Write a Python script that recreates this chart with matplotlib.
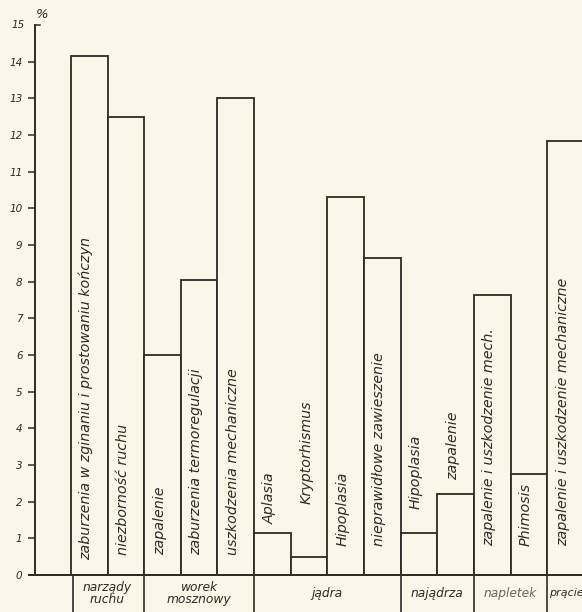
import matplotlib
matplotlib.use("Agg")
import matplotlib.pyplot as plt

# ---- data ----
bar_labels = [
    "zaburzenia w zginaniu i prostowaniu kończyn",
    "niezborność ruchu",
    "zapalenie",
    "zaburzenia termoregulacji",
    "uszkodzenia mechaniczne",
    "Aplasia",
    "Kryptorhismus",
    "Hipoplasia",
    "nieprawidłowe zawieszenie",
    "Hipoplasia",
    "zapalenie",
    "zapalenie i uszkodzenie mech.",
    "Phimosis",
    "zapalenie i uszkodzenie mechaniczne",
]
values = [14.15, 12.5, 6.0, 8.05, 13.0, 1.15, 0.5, 10.3, 8.65, 1.15, 2.2, 7.65, 2.75, 11.85]
groups = ["narządy\nruchu", "worek\nmosznowy", "jądra", "najądrza", "napletek", "prącie"]
group_sizes = [2, 3, 4, 2, 2, 2]
yticks = list(range(0, 16))

# label placement (layout)
label_y = [0.4, 0.55, 0.55, 0.55, 0.55, 1.4, 1.95, 0.8, 0.8, 1.8, 2.6, 0.8, 0.8, 0.8]

bg = "#faf6e8"
ink = "#2e2b28"

fig = plt.figure(figsize=(5.82, 6.12), dpi=100, facecolor=bg)
ax = fig.add_axes([35 / 582, 37 / 612, 1 - 35 / 582, 550 / 612])
ax.set_facecolor(bg)

x = list(range(len(values)))
ax.bar([i + 0.5 for i in x], values, width=1.0, facecolor=bg, edgecolor=ink,
       linewidth=1.3, zorder=2)

ax.set_xlim(-0.98, 13.95)
ax.set_ylim(0, 15)

for s in ["top", "right"]:
    ax.spines[s].set_visible(False)
ax.spines["left"].set_color(ink)
ax.spines["bottom"].set_color(ink)
ax.spines["left"].set_linewidth(1.4)
ax.spines["bottom"].set_linewidth(1.4)
ax.set_xticks([])
ax.set_yticks(yticks[:-1])
ax.set_yticklabels([str(t) for t in yticks[:-1]], fontstyle="italic", fontsize=7.5, color=ink)
ax.tick_params(axis="y", direction="out", length=5, width=1.1, color=ink, pad=4)

# 15 mark with short hook to the right
ax.plot([-0.98, -0.83], [15, 15], color=ink, lw=1.1, clip_on=False)
ax.text(-1.45, 15, "15", ha="center", va="center", fontsize=7.5, fontstyle="italic", color=ink)
ax.text(-0.78, 15.3, "%", ha="center", va="center", fontsize=9.5, fontstyle="italic", color=ink)

# bar labels
for i, (lab, ly) in enumerate(zip(bar_labels, label_y)):
    ax.text(i + 0.42, ly, lab, rotation=90, ha="center", va="bottom",
            fontsize=10.3, fontstyle="italic", color=ink, zorder=3)

# group boxes below axis
ybot = -1.02
edges = [0]
for g in group_sizes:
    edges.append(edges[-1] + g)
for e in edges[:-1]:
    xe = e + 0.07 if e == 0 else e
    ax.plot([xe, xe], [0, ybot], color=ink, lw=1.2, clip_on=False)
ax.plot([-1.15, 13.95], [0, 0], color=ink, lw=1.4, clip_on=False)
for gi, (g, a, b) in enumerate(zip(groups, edges[:-1], edges[1:])):
    col = "#6a6660" if g == "napletek" else ink
    if gi == len(groups) - 1:
        ax.text(a + 0.04, -0.5, g, ha="left", va="center", fontsize=8,
                fontstyle="italic", color=col, clip_on=False)
    else:
        ax.text((a + b) / 2, -0.5, g, ha="center", va="center", fontsize=8.8,
                fontstyle="italic", color=col, linespacing=0.95, clip_on=False)

fig.savefig("out.png", dpi=100, facecolor=bg)
